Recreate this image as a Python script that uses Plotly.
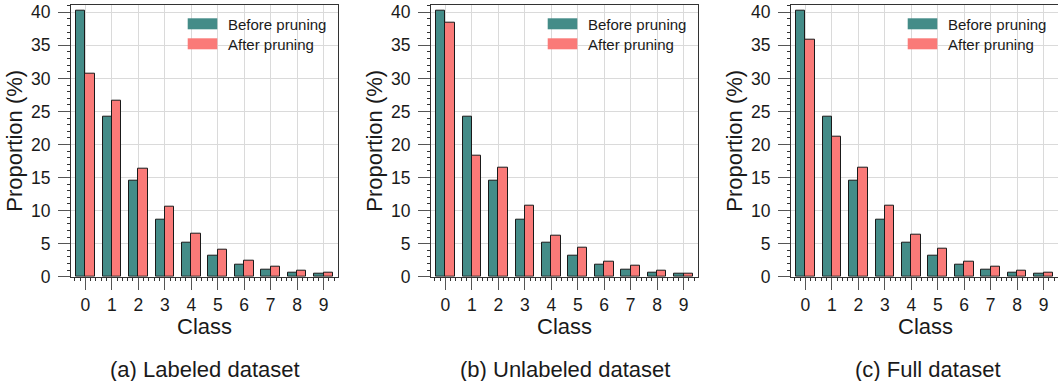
import plotly.graph_objects as go

# Class proportions (%) before and after pruning
classes = list(range(10))
before = [40.30, 24.16, 14.48, 8.68, 5.20, 3.12, 1.87, 1.12, 0.67, 0.40]
after_labeled = [30.77, 26.68, 16.34, 10.54, 6.51, 4.04, 2.42, 1.46, 0.86, 0.55]
after_unlabeled = [38.44, 18.36, 16.54, 10.79, 6.25, 4.39, 2.32, 1.66, 0.96, 0.50]
after_full = [35.81, 21.24, 16.44, 10.69, 6.36, 4.29, 2.32, 1.56, 0.96, 0.55]
captions = ["(a) Labeled dataset", "(b) Unlabeled dataset", "(c) Full dataset"]
series_names = ["Before pruning", "After pruning"]

W, H = 1058, 381
TEAL = "#448C88"
SALMON = "#FA7A78"
FONT = "Liberation Sans, Arial, sans-serif"

# panel geometry in pixels
panels = [(71, 338), (431, 698), (791, 1058)]
top_px, bottom_px = 4.7, 276.7


def px(x):
    return x / W


def py(y):
    return 1 - y / H


fig = go.Figure()
after_sets = [after_labeled, after_unlabeled, after_full]
shapes = []
annotations = []

for i, ((left, right), after) in enumerate(zip(panels, after_sets)):
    sfx = "" if i == 0 else str(i + 1)
    xa, ya = "x" + sfx, "y" + sfx
    fig.add_trace(go.Bar(x=classes, y=before, width=0.35, offset=-0.35,
                         marker=dict(color=TEAL, line=dict(color="#1a1a1a", width=1)),
                         name=series_names[0], showlegend=False, xaxis=xa, yaxis=ya))
    fig.add_trace(go.Bar(x=classes, y=after, width=0.35, offset=0.0,
                         marker=dict(color=SALMON, line=dict(color="#1a1a1a", width=1)),
                         name=series_names[1], showlegend=False, xaxis=xa, yaxis=ya))

    last = i == 2
    fig.layout["xaxis" + sfx] = dict(
        domain=[px(left), px(right)], anchor=ya, range=[-0.54, 9.54],
        automargin=False,
        tickmode="array", tickvals=classes, ticktext=[str(c) for c in classes],
        ticks="outside", ticklen=12, tickwidth=1.2, tickcolor="#555",
        showline=True, linecolor="#333", linewidth=1, mirror=True,
        showgrid=True, gridcolor="#dadada", gridwidth=1, zeroline=False,
        minor=dict(tick0=0, dtick=0.2, ticks="outside", ticklen=3,
                   tickwidth=1, tickcolor="#333", showgrid=False),
        tickfont=dict(family=FONT, size=17.5, color="#1a1a1a"), fixedrange=True)
    fig.layout["yaxis" + sfx] = dict(
        domain=[py(bottom_px), py(top_px)], anchor=xa, range=[0, 41.15],
        automargin=False,
        tickmode="linear", tick0=0, dtick=5,
        ticks="outside", ticklen=12, tickwidth=1.2, tickcolor="#555",
        ticklabelstandoff=4,
        showline=True, linecolor="#333", linewidth=1, mirror=not last,
        showgrid=True, gridcolor="#dadada", gridwidth=1, zeroline=False,
        minor=dict(tick0=0, dtick=1, ticks="outside", ticklen=3,
                   tickwidth=1, tickcolor="#333", showgrid=False),
        tickfont=dict(family=FONT, size=17.5, color="#1a1a1a"), fixedrange=True)

    # legend patches and labels
    for k, (col, name) in enumerate(zip([TEAL, SALMON], series_names)):
        y0 = 18.3 + 20 * k
        shapes.append(dict(type="rect", xref="paper", yref="paper",
                           x0=px(left + 116.7), x1=px(left + 146.3),
                           y0=py(y0 + 11), y1=py(y0),
                           fillcolor=col, line=dict(width=0), layer="above"))
        annotations.append(dict(text=name, xref="paper", yref="paper",
                                x=px(left + 155), y=py(y0 + 5.8),
                                xanchor="left", yanchor="middle", showarrow=False,
                                font=dict(family=FONT, size=15, color="#1a1a1a")))

    centre = (left + right) / 2 if not last else 928
    annotations.append(dict(text="Proportion (%)", xref="paper", yref="paper",
                            x=px(left - 56), y=py((top_px + bottom_px) / 2),
                            xanchor="center", yanchor="middle", textangle=-90,
                            showarrow=False,
                            font=dict(family=FONT, size=22, color="#1a1a1a")))
    annotations.append(dict(text="Class", xref="paper", yref="paper",
                            x=px((left + right) / 2 if not last else 925), y=py(326),
                            xanchor="center", yanchor="middle", showarrow=False,
                            font=dict(family=FONT, size=22, color="#1a1a1a")))
    annotations.append(dict(text=captions[i], xref="paper", yref="paper",
                            x=px(centre), y=py(369),
                            xanchor="center", yanchor="middle", showarrow=False,
                            font=dict(family=FONT, size=22, color="#1a1a1a")))

fig.update_layout(width=W, height=H, margin=dict(l=0, r=0, t=0, b=0),
                  paper_bgcolor="white", plot_bgcolor="white",
                  barmode="overlay", bargap=0, showlegend=False,
                  shapes=shapes, annotations=annotations,
                  font=dict(family=FONT))

fig.write_html("out.html", config={"displayModeBar": False})
